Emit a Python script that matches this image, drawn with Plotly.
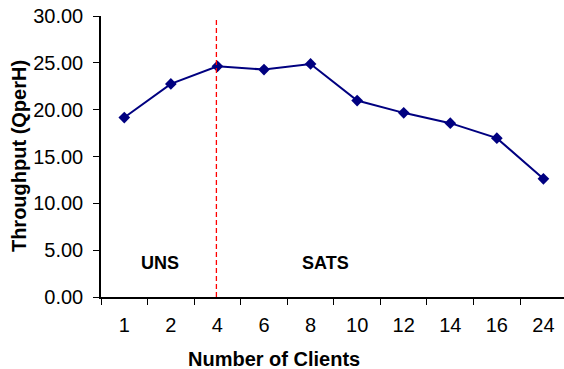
import plotly.graph_objects as go

# Throughput per number of concurrent clients
clients = ["1", "2", "4", "6", "8", "10", "12", "14", "16", "24"]
throughput = [19.16, 22.75, 24.63, 24.28, 24.88, 20.97, 19.66, 18.56, 16.96, 12.62]

# Regime labels and the boundary between them
regimes = ["UNS", "SATS"]
regime_x = [0.77, 4.33]
regime_y = 3.66
boundary_index = 1.978

FONT = "Liberation Sans, Arial, sans-serif"
NAVY = "#000080"

fig = go.Figure()
fig.add_trace(go.Scatter(
    x=clients,
    y=throughput,
    mode="lines+markers",
    line=dict(color=NAVY, width=2),
    marker=dict(symbol="diamond", size=9, color=NAVY),
    showlegend=False,
    hoverinfo="x+y",
))

# Dashed separator between the two regimes
fig.add_shape(
    type="line", xref="x", yref="y",
    x0=boundary_index, x1=boundary_index, y0=0, y1=29.7,
    line=dict(color="#ff0000", width=1.3, dash="5px,3px"),
)

for label, xi in zip(regimes, regime_x):
    fig.add_annotation(
        x=xi, y=regime_y, xref="x", yref="y", text=f"<b>{label}</b>",
        showarrow=False, font=dict(family=FONT, size=18, color="#000000"),
    )

# Axis titles
fig.add_annotation(
    x=0.3747, y=-0.222, xref="paper", yref="paper",
    xanchor="center", yanchor="middle",
    text="<b>Number of Clients</b>", showarrow=False,
    font=dict(family=FONT, size=20, color="#000000"),
)
fig.add_annotation(
    x=-0.178, y=0.5, xref="paper", yref="paper",
    xanchor="center", yanchor="middle", textangle=-90,
    text="<b>Throughput (QperH)</b>", showarrow=False,
    font=dict(family=FONT, size=20, color="#000000"),
)

fig.update_layout(
    width=564, height=369,
    margin=dict(l=101, r=0, t=16, b=72, pad=0),
    plot_bgcolor="#ffffff", paper_bgcolor="#ffffff",
    font=dict(family=FONT, size=20, color="#000000"),
)

fig.update_xaxes(
    type="category",
    range=[-0.5, 9.442],
    showline=True, linecolor="#000000", linewidth=1.5,
    ticks="outside", ticklen=6, tickcolor="#000000", tickwidth=1,
    tickson="boundaries",
    showgrid=False, zeroline=False,
    tickfont=dict(family=FONT, size=20),
    ticklabelstandoff=9,
)

fig.update_yaxes(
    range=[0, 30], dtick=5, tickformat=".2f",
    showline=True, linecolor="#000000", linewidth=1.5,
    ticks="outside", ticklen=6, tickcolor="#000000", tickwidth=1,
    showgrid=False, zeroline=False,
    tickfont=dict(family=FONT, size=20),
    ticklabelstandoff=6,
)

fig.write_html("out.html")
